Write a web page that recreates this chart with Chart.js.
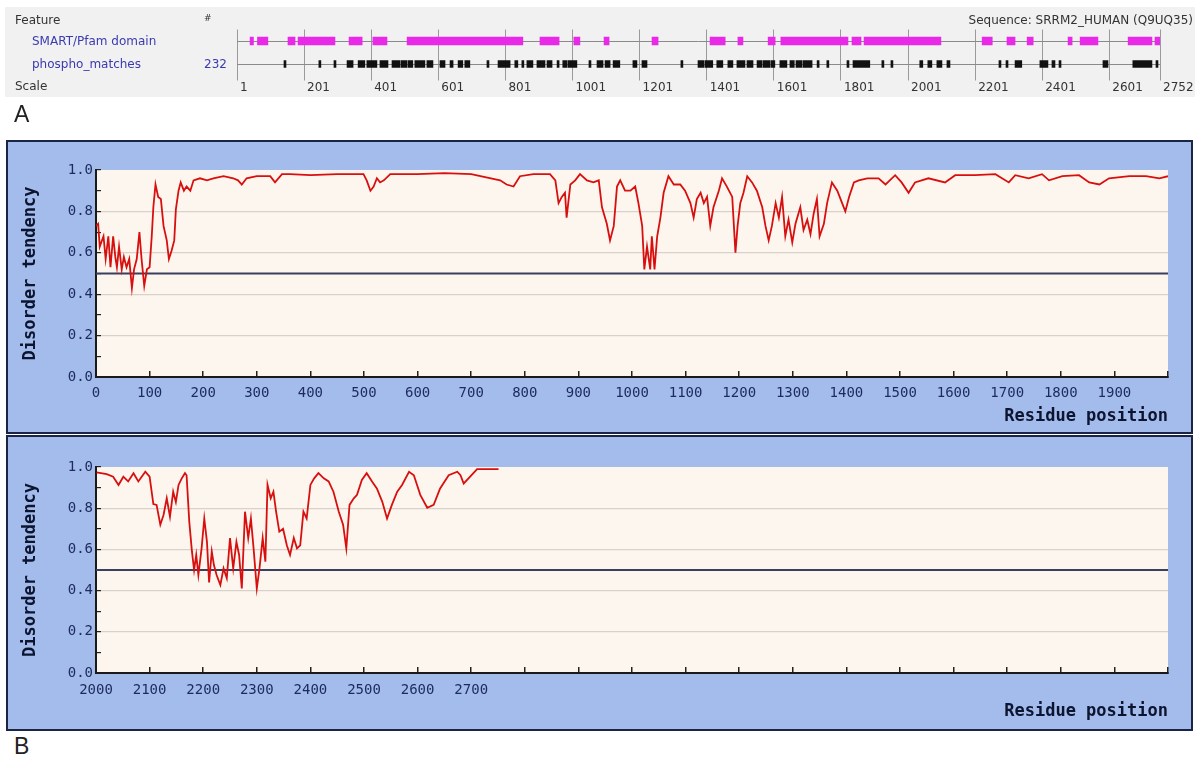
<!DOCTYPE html>
<html>
<head>
<meta charset="utf-8">
<script src="https://cdn.jsdelivr.net/npm/chart.js@4.4.1/dist/chart.umd.min.js"></script>
<style>
  body { margin: 0; background: #fff; width: 1195px; height: 761px; position: relative; overflow: hidden; font-family: "DejaVu Sans", sans-serif; }
  #trackBox { position: absolute; left: 5px; top: 7px; width: 1190px; height: 90px; background: #f1f1f1; }
  #trackCanvas { position: absolute; left: 0; top: 0; }
  .lbl { position: absolute; font-size: 12px; line-height: 14px; white-space: nowrap; color: #333; }
  .blue { color: #3a3ab0; }
  .big { position: absolute; font-family: "Liberation Sans", Arial, sans-serif; font-size: 23px; color: #222; }
  .panel { position: absolute; left: 6px; width: 1183px; border: 2px solid #1b2444; background: #a3bcec; }
  .panel canvas { display: block; }
</style>
</head>
<body>
<div id="trackBox"></div>
<canvas id="trackCanvas" width="1195" height="100"></canvas>
<div class="lbl" style="left:15px; top:13px;">Feature</div>
<div class="lbl" style="left:204px; top:11px; font-size:9px;">#</div>
<div class="lbl blue" style="left:32px; top:34px;">SMART/Pfam domain</div>
<div class="lbl blue" style="left:32px; top:57px;">phospho_matches</div>
<div class="lbl blue" style="left:204px; top:57px;">232</div>
<div class="lbl" style="left:15px; top:79px;">Scale</div>
<div class="lbl" style="right:2px; top:13px;">Sequence: SRRM2_HUMAN (Q9UQ35)</div>
<div class="big" style="left:14px; top:101px;">A</div>

<div class="panel" style="top:140px; height:290px;"><canvas id="plotTop" width="1183" height="290"></canvas></div>
<div class="panel" style="top:435px; height:292px;"><canvas id="plotBottom" width="1183" height="292"></canvas></div>
<div class="big" style="left:14px; top:733px;">B</div>

<script>
// Дорожка признаков (A)
const trackRows = ['SMART/Pfam domain', 'phospho_matches'];
const scaleTicks = [1, 201, 401, 601, 801, 1001, 1201, 1401, 1601, 1801, 2001, 2201, 2401, 2601, 2752];
const domainRanges = [[40,50],[62,93],[153,174],[183,293],[335,374],[406,448],[508,853],[904,961],
  [1005,1023],[1095,1110],[1238,1256],[1411,1456],[1494,1509],[1584,1605],[1622,1822],[1834,1861],
  [1870,2099],[2222,2252],[2296,2320],[2356,2374],[2478,2490],[2514,2567],[2657,2728],[2737,2752]];
const phosphoRanges = [[141,147],[245,251],[290,296],[329,347],[362,382],[388,418],[427,451],[463,487],
  [490,508],[511,525],[531,561],[567,585],[606,621],[636,645],[660,674],[680,695],[746,752],[779,815],
  [829,838],[850,856],[865,883],[895,919],[925,940],[955,961],[972,984],[987,1014],[1050,1056],[1074,1092],
  [1098,1113],[1122,1142],[1181,1193],[1208,1223],[1324,1330],[1375,1393],[1396,1419],[1431,1449],
  [1464,1479],[1491,1515],[1521,1539],[1551,1566],[1569,1589],[1592,1604],[1619,1640],[1649,1662],
  [1667,1685],[1688,1715],[1730,1736],[1759,1765],[1819,1825],[1837,1887],[1923,1929],[1950,1956],
  [2036,2045],[2060,2072],[2087,2102],[2117,2126],[2272,2278],[2293,2299],[2320,2340],[2394,2418],
  [2430,2439],[2451,2457],[2582,2597],[2671,2728],[2740,2746]];

// Склонность к неупорядоченности, остатки 0-2000
const posTop = [0,4,7,14,18,23,27,32,36,39,43,48,52,57,62,67,71,76,81,85,
  90,95,100,104,107,111,116,121,126,132,136,141,146,149,154,158,164,169,176,182,
  194,207,219,238,256,265,272,281,300,325,334,347,362,400,450,499,505,512,518,524,
  530,537,549,600,650,700,754,766,779,791,816,847,857,863,869,875,878,885,894,903,
  916,928,938,944,953,959,966,972,978,987,997,1006,1012,1019,1023,1028,1034,1037,1042,1047,
  1053,1059,1068,1078,1090,1099,1109,1115,1121,1128,1134,1140,1146,1152,1162,1168,1177,1187,1193,1197,
  1202,1208,1215,1224,1233,1243,1249,1255,1261,1268,1274,1280,1286,1292,1299,1305,1314,1320,1327,1333,
  1339,1345,1350,1358,1364,1373,1383,1392,1398,1405,1414,1423,1439,1460,1473,1491,1503,1516,1528,1553,
  1584,1603,1640,1678,1703,1715,1740,1765,1778,1803,1834,1853,1872,1890,1928,1959,1984,2000];
const disorderTop = [0.73,0.74,0.63,0.68,0.57,0.68,0.53,0.68,0.58,0.53,0.63,0.52,0.58,0.53,0.57,0.43,0.52,0.57,0.70,0.57,
  0.44,0.52,0.53,0.68,0.82,0.93,0.87,0.86,0.73,0.66,0.57,0.61,0.66,0.81,0.90,0.94,0.90,0.92,0.90,0.95,
  0.96,0.95,0.96,0.97,0.96,0.95,0.93,0.96,0.97,0.97,0.94,0.98,0.98,0.975,0.98,0.98,0.95,0.90,0.92,0.96,
  0.94,0.95,0.98,0.98,0.985,0.98,0.95,0.93,0.92,0.97,0.98,0.98,0.95,0.84,0.87,0.89,0.77,0.93,0.95,0.98,
  0.95,0.94,0.95,0.82,0.74,0.66,0.73,0.92,0.95,0.90,0.90,0.92,0.84,0.73,0.52,0.63,0.52,0.68,0.52,0.68,
  0.77,0.89,0.97,0.93,0.93,0.90,0.84,0.77,0.86,0.89,0.84,0.87,0.73,0.82,0.90,0.96,0.92,0.87,0.60,0.73,
  0.84,0.89,0.97,0.94,0.90,0.82,0.73,0.66,0.73,0.84,0.77,0.87,0.68,0.76,0.65,0.74,0.82,0.71,0.76,0.69,
  0.79,0.86,0.68,0.74,0.84,0.94,0.90,0.84,0.80,0.87,0.94,0.95,0.96,0.96,0.93,0.975,0.94,0.89,0.94,0.96,
  0.94,0.975,0.975,0.98,0.94,0.975,0.96,0.98,0.95,0.97,0.975,0.94,0.93,0.96,0.97,0.97,0.96,0.97];

// Склонность к неупорядоченности, остатки 2000-2752
const posBottom = [2001,2020,2032,2042,2051,2060,2070,2079,2092,2100,2107,2113,2120,2126,2132,2138,2144,2149,2154,2160,
  2166,2169,2174,2179,2183,2187,2191,2197,2202,2207,2211,2216,2220,2225,2232,2238,2244,2250,2256,2262,
  2267,2272,2278,2284,2289,2294,2300,2305,2311,2316,2320,2326,2331,2336,2342,2349,2356,2362,2369,2375,
  2381,2387,2393,2400,2407,2415,2425,2434,2443,2453,2461,2467,2473,2481,2487,2496,2505,2515,2524,2534,
  2543,2552,2562,2571,2584,2593,2605,2618,2630,2642,2658,2674,2680,2686,2695,2711,2751];
const disorderBottom = [0.974,0.965,0.953,0.913,0.953,0.93,0.97,0.93,0.977,0.953,0.82,0.816,0.72,0.767,0.848,0.759,0.88,0.83,0.913,0.945,
  0.97,0.96,0.735,0.59,0.50,0.573,0.476,0.605,0.75,0.637,0.44,0.59,0.524,0.476,0.427,0.508,0.46,0.655,0.508,0.637,
  0.573,0.41,0.783,0.655,0.75,0.605,0.41,0.508,0.655,0.54,0.913,0.848,0.88,0.783,0.686,0.70,0.62,0.573,0.655,0.605,
  0.62,0.783,0.75,0.913,0.945,0.97,0.945,0.93,0.88,0.783,0.72,0.605,0.816,0.848,0.865,0.937,0.97,0.93,0.896,0.832,
  0.75,0.816,0.88,0.913,0.977,0.96,0.865,0.802,0.816,0.896,0.96,0.977,0.96,0.92,0.945,0.99,0.99];
const threshold = 0.5;

// Дорожка доменов и фосфосайтов
new Chart(document.getElementById('trackCanvas'), {
  type: 'bar',
  data: {
    labels: trackRows,
    datasets: [
      { data: domainRanges.map(r => ({ x: r, y: trackRows[0] })), backgroundColor: '#e82ae8', barThickness: 8, grouped: false },
      { data: phosphoRanges.map(r => ({ x: r, y: trackRows[1] })), backgroundColor: '#111', barThickness: 7, grouped: false }
    ]
  },
  options: {
    indexAxis: 'y',
    responsive: false,
    animation: false,
    layout: { padding: { left: 237, right: 35, top: 29.5, bottom: 4.5 } },
    plugins: { legend: { display: false }, tooltip: { enabled: false } },
    scales: {
      x: {
        type: 'linear', min: 1, max: 2752,
        afterBuildTicks: s => { s.ticks = scaleTicks.map(v => ({ value: v })); },
        ticks: { autoSkip: false, align: 'start', labelOffset: 3, padding: 0, color: '#333',
          font: { family: 'DejaVu Sans', size: 12 }, callback: v => String(v) },
        grid: { color: '#9a9a9a', tickColor: '#9a9a9a', tickLength: 5 },
        border: { display: false },
        afterFit: s => { s.height = 20; }
      },
      y: {
        type: 'category', offset: true,
        ticks: { display: false },
        grid: { offset: false, drawTicks: false, color: '#8a8a8a' },
        border: { display: false },
        afterFit: s => { s.width = 0; }
      }
    }
  }
});

// Фон области построения
const plotBg = {
  id: 'plotBg',
  beforeDraw(chart) {
    const { ctx, chartArea: a } = chart;
    ctx.save();
    ctx.fillStyle = '#fdf6ee';
    ctx.fillRect(a.left, a.top, a.right - a.left, a.bottom - a.top);
    ctx.restore();
  }
};

function createDisorderChart(id, pos, vals, xMin, xMax, lastLabel, padTop, axisHeight, labelPad, titlePad) {
  const tickFont = { family: 'DejaVu Sans Mono', size: 14 };
  return new Chart(document.getElementById(id), {
    type: 'line',
    data: {
      datasets: [
        { data: pos.map((p, i) => ({ x: p, y: vals[i] })), borderColor: '#d80f0f', borderWidth: 1.8, pointRadius: 0, tension: 0 },
        { data: [{ x: xMin, y: threshold }, { x: xMax, y: threshold }], borderColor: '#3a3f5e', borderWidth: 1.8, pointRadius: 0 }
      ]
    },
    options: {
      responsive: false,
      animation: false,
      layout: { padding: { left: 0, right: 23, top: padTop, bottom: 0 } },
      plugins: { legend: { display: false }, tooltip: { enabled: false } },
      scales: {
        x: {
          type: 'linear', min: xMin, max: xMax,
          ticks: { stepSize: 100, autoSkip: false, maxRotation: 0, padding: labelPad, color: '#1c2a5c', font: tickFont,
            callback: v => (v <= lastLabel ? String(v) : '') },
          grid: { drawOnChartArea: false, tickLength: -6, tickColor: '#222', lineWidth: 1.5 },
          border: { color: '#1a1a1a', width: 2 },
          title: { display: true, text: 'Residue position', align: 'end', color: '#0c1430',
            font: { family: 'DejaVu Sans Mono', size: 17, weight: 'bold' }, padding: { top: 0, bottom: titlePad } },
          afterFit: s => { s.height = axisHeight; }
        },
        y: {
          type: 'linear', min: 0, max: 1,
          ticks: { stepSize: 0.1, padding: 8, color: '#1c2a5c', font: tickFont,
            callback: v => (Math.round(v * 10) % 2 === 0 ? v.toFixed(1) : '') },
          grid: {
            tickLength: -5, tickColor: '#222', lineWidth: 1.2,
            color: c => {
              const t = Math.round(c.tick.value * 10);
              return (t > 0 && t < 10 && t % 2 === 0) ? '#d9d2cc' : 'rgba(0,0,0,0)';
            }
          },
          border: { color: '#1a1a1a', width: 2 },
          title: { display: true, text: 'Disorder tendency', color: '#0c1430',
            font: { family: 'DejaVu Sans Mono', size: 17, weight: 'bold' }, padding: { top: 12, bottom: 0 } },
          afterFit: s => { s.width = 88; }
        }
      }
    },
    plugins: [plotBg]
  });
}

createDisorderChart('plotTop', posTop, disorderTop, 0, 2000, 1900, 28, 55, 14, 5);
createDisorderChart('plotBottom', posBottom, disorderBottom, 2000, 4000, 2700, 30, 56, 15, 7);
</script>
</body>
</html>
